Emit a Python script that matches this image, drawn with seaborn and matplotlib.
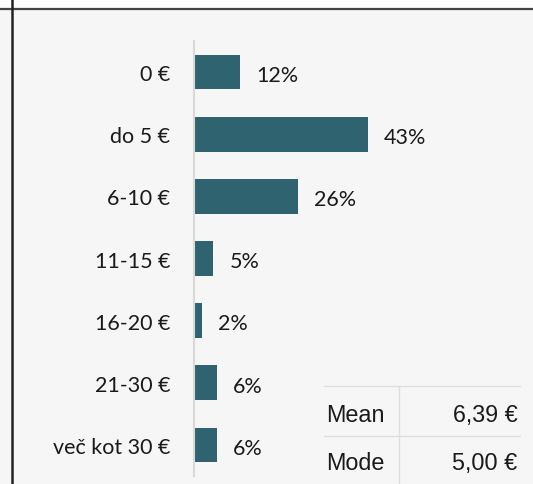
import matplotlib

matplotlib.use("Agg")
import matplotlib.pyplot as plt
import seaborn as sns
from matplotlib.lines import Line2D
from matplotlib.patches import Rectangle

# data
categories = ["0 €", "do 5 €", "6-10 €", "11-15 €", "16-20 €", "21-30 €", "več kot 30 €"]
shares = [11.6, 43.2, 26.0, 4.9, 2.1, 5.8, 5.8]
stat_names = ["Mean", "Mode"]
stat_values = ["6,39 €", "5,00 €"]

BG = "#f6f6f6"
BAR = "#2f6370"
TEXT = "#1a1a1a"
W, H = 533, 485  # figure size in px


def fx(px):
    return px / W


def fy(px):
    # px measured from the top of the picture
    return 1 - px / H


sns.set_theme(style="white")
plt.rcParams["font.family"] = ["Lato", "DejaVu Sans"]

fig = plt.figure(figsize=(W / 100, H / 100), dpi=100, facecolor=BG)

# frame: white strip on top, dark rules
fig.add_artist(Rectangle((0, fy(9.5)), 1, 9.5 / H, transform=fig.transFigure,
                         facecolor="white", edgecolor="none"))
fig.add_artist(Line2D([0, 1], [fy(10.2)] * 2, color="#444444", lw=1.6))
fig.add_artist(Line2D([fx(12)] * 2, [0, 1], color="#222222", lw=1.8))

# bar chart
ax = fig.add_axes([fx(193.7), fy(477), fx(520 - 193.7), (477 - 42) / H])
ax.set_facecolor(BG)
sns.barplot(x=shares, y=categories, orient="h", color=BAR, saturation=1,
            width=0.56, errorbar=None, linewidth=0, ax=ax)
for i, v in enumerate(shares):
    ax.annotate(f"{v:.0f}%", xy=(v, i), xytext=(11.5, -2),
                textcoords="offset points", ha="left", va="center",
                fontsize=15.5, color=TEXT)
ax.set_xlim(0, (520 - 193.7) / 4.03)
ax.set_ylim(6.5, -0.5)
for side in ["top", "right", "bottom"]:
    ax.spines[side].set_visible(False)
ax.spines["left"].set_color("#d9d9d9")
ax.spines["left"].set_linewidth(1.5)
ax.set_xticks([])
ax.tick_params(axis="y", length=0, pad=17, labelsize=15.5, labelcolor=TEXT)
ax.set_xlabel("")
ax.set_ylabel("")

# summary table bottom right
grid = "#dedede"
fig.add_artist(Line2D([fx(324), fx(520)], [fy(387.3)] * 2, color=grid, lw=1))
fig.add_artist(Line2D([fx(324), fx(520)], [fy(436.7)] * 2, color=grid, lw=1))
fig.add_artist(Line2D([fx(399.3)] * 2, [fy(387.3), 0], color=grid, lw=1))
for i, (name, value) in enumerate(zip(stat_names, stat_values)):
    base = 421.7 + i * 48.5
    fig.text(fx(326), fy(base), name, ha="left", va="baseline",
             fontsize=16.8, family="Liberation Sans", color=TEXT)
    fig.text(fx(517.3), fy(base), value, ha="right", va="baseline",
             fontsize=16.8, family="Liberation Sans", color=TEXT)

fig.savefig("out.png", dpi=100, facecolor=BG)
